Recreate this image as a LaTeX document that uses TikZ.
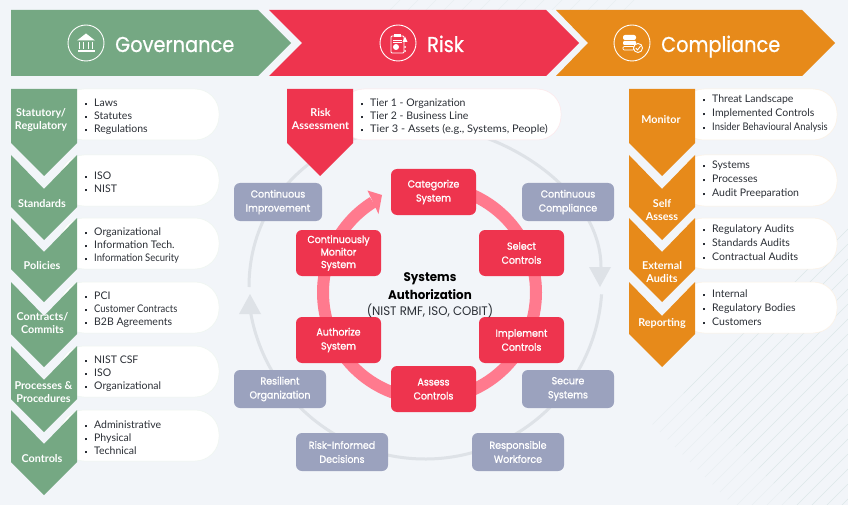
\documentclass[tikz,border=0pt]{standalone}
\usepackage{fontspec}
\setmainfont{Lato}
\newfontfamily\headfont[FakeStretch=0.9, FakeBold=0.7]{Poppins}
\newfontfamily\medfont[FakeStretch=0.93, FakeBold=1.2]{Poppins}
\newfontfamily\framefont[FakeStretch=0.95]{Poppins}
\newfontfamily\tightfont[FakeStretch=0.9]{Lato}
\newfontfamily\widefont[FakeStretch=1.05]{Lato}
\definecolor{pagebg}{HTML}{F2F5F9}
\definecolor{govgreen}{HTML}{75A883}
\definecolor{riskred}{HTML}{EE344E}
\definecolor{compamber}{HTML}{E78A1A}
\definecolor{outcomeblue}{HTML}{9BA2BE}
\definecolor{ringpink}{HTML}{FF7A8E}
\definecolor{ringgray}{HTML}{DEE2E7}
\definecolor{inktext}{HTML}{2B2F36}
\definecolor{hatchline}{HTML}{DCE8E8}
\newcommand{\blt}{\rule[1.6pt]{2pt}{2pt}\hspace{7pt}}
\tikzset{
	headtext/.style = {text = white, font = \headfont\fontsize{21.5}{24}\selectfont, anchor = base west, inner sep = 0pt},
	chevtext/.style = {text = white, font = \fontsize{10.8}{13}\selectfont\bfseries, align = center, inner sep = 0pt},
	listtext/.style = {text = inktext, font = \fontsize{10.5}{13}\selectfont, align = left, anchor = west, inner sep = 0pt},
	listwide/.style = {listtext, font = \fontsize{10.5}{14}\selectfont},
	pill/.style = {fill = white, draw = #1!12, line width = 0.5pt, rounded corners = 24},
	stepnode/.style = {fill = riskred, rounded corners = 6, text = white, align = center,
		minimum width = 85, minimum height = 46, inner sep = 0pt,
		font = \medfont\fontsize{10.2}{14}\selectfont},
	outcomenode/.style = {fill = outcomeblue, rounded corners = 6, text = white, align = center,
		minimum width = 92, minimum height = 38, inner sep = 0pt,
		font = \medfont\fontsize{10.2}{14}\selectfont},
	iconline/.style = {draw = white, line width = 0.9pt},
	cycleline/.style = {ringgray, line width = 3pt}
}
\begin{document}
\begin{tikzpicture}[x = 1pt, y = 1pt, yscale = -1]
	\useasboundingbox (0, 0) rectangle (848, 505);
	\fill[pagebg] (0, 0) rectangle (848, 505);
	% hatching behind everything
	\begin{scope}
		\clip (0, 0) rectangle (848, 505);
		\foreach \c in {400, 418, ..., 640}
			\draw[hatchline, line width = 0.5pt, opacity = 0.4] (\c, 0) -- (\c - 10, 10);
		\foreach \c in {1077, 1092, ..., 1362} {
			\draw[hatchline, line width = 0.5pt, opacity = 0.4] ({(\c + 228) / 2}, {(\c - 228) / 2}) -- ({(\c + 290) / 2}, {(\c - 290) / 2});
			\draw[hatchline, line width = 0.5pt] ({(\c + 290) / 2}, {(\c - 290) / 2}) -- (848, \c - 848);
		}
	\end{scope}
	% the header arrows
	\fill[govgreen] (11, 10) -- (258, 10) -- (291, 43) -- (258, 76) -- (11, 76) -- cycle;
	\fill[riskred] (269, 10) -- (546, 10) -- (579, 43) -- (546, 76) -- (269, 76) -- (302, 43) -- cycle;
	\fill[compamber] (556, 10) -- (802, 10) -- (835, 43) -- (802, 76) -- (556, 76) -- (588, 43) -- cycle;
	\node[headtext] (govhead) at (115, 52) {Governance};
	\node[headtext] (riskhead) at (427, 52) {Risk};
	\node[headtext] (comphead) at (661, 52) {Compliance};
	% bank icon
	\draw[iconline] (86, 43) circle (18);
	\fill[white] (77, 40.5) -- (86, 33.5) -- (95, 40.5) -- cycle;
	\foreach \x in {79.5, 83.5, 88.5, 92.5}
		\fill[white] (\x - 0.8, 42) rectangle (\x + 0.8, 49);
	\fill[white] (77.5, 50) rectangle (94.5, 52);
	% clipboard icon
	\draw[iconline] (398, 43) circle (18);
	\draw[iconline, rounded corners = 1] (391, 36) rectangle (404, 53);
	\fill[white] (394, 34.5) rectangle (401, 37.5);
	\fill[white] (396, 47) circle (3);
	\foreach \y in {40, 42.5}
		\draw[white, line width = 0.7pt] (393, \y) -- (402, \y);
	\fill[white] (405, 36.5) -- (407.5, 42) -- (402.5, 42) -- cycle;
	\fill[white] (405, 47) circle (1) (405, 51) circle (1);
	% database icon
	\draw[iconline] (632, 43) circle (18);
	\fill[white, rounded corners = 2] (623, 35) rectangle (636, 40);
	\fill[white, rounded corners = 1] (623, 41) rectangle (636, 45);
	\draw[white, line width = 0.7pt, rounded corners = 1] (623, 46.5) rectangle (634, 50);
	\draw[iconline, fill = compamber] (638, 48) circle (4.5);
	\draw[white, line width = 0.9pt] (635.8, 48) -- (637.5, 50) -- (640.5, 46);
	% the big gray cycle, flatter on top
	\draw[cycleline] (425, 282) ++(4:177) arc[start angle = 4, end angle = 170, radius = 177];
	\draw[cycleline] (249, 287) .. controls (249, 190) and (330, 126) .. (425, 126) .. controls (500, 126) and (601, 190) .. (601, 267);
	\fill[ringgray] (589, 267) -- (611, 267) -- (600, 287) -- cycle;
	\fill[ringgray] (239, 314) -- (261, 314) -- (250, 294) -- cycle;
	% the pink cycle
	\draw[ringpink, line width = 12pt] (429.5, 292.5) ++(270:106.5) arc[start angle = 270, end angle = 598, radius = 106.5];
	\fill[ringpink] (382, 195) -- (367.5, 190.5) -- (378.5, 214) -- cycle;
	% white lists, left
	\foreach \ytop in {89, 155, 218, 282, 346, 410}
		\draw[pill = govgreen] (60, \ytop) -- (219, \ytop) -- (219, \ytop + 51) -- (60, \ytop + 51) -- cycle;
	% white lists, middle and right
	\draw[pill = riskred] (340, 89) -- (561, 89) -- (561, 140) -- (340, 140) -- cycle;
	\foreach \ytop in {89, 155, 218, 282}
		\draw[pill = compamber] (680, \ytop) -- (837, \ytop) -- (837, \ytop + 51) -- (680, \ytop + 51) -- cycle;
	% green column
	\fill[govgreen] (11, 89) -- (77, 89) -- (77, 143) -- (44, 176) -- (11, 143) -- cycle;
	\foreach \ytop/\ytip in {155/240, 218/302, 282/367, 346/432, 410/495}
		\fill[govgreen] (11, \ytop) -- (44, \ytop + 34) -- (77, \ytop) -- (77, \ytip - 33) -- (44, \ytip) -- (11, \ytip - 33) -- cycle;
	% red column
	\fill[riskred] (287, 89) -- (353, 89) -- (353, 143) -- (320, 176) -- (287, 143) -- cycle;
	% amber column
	\fill[compamber] (629, 89) -- (695, 89) -- (695, 143) -- (662, 176) -- (629, 143) -- cycle;
	\foreach \ytop/\ytip in {155/240, 218/302, 282/367}
		\fill[compamber] (629, \ytop) -- (662, \ytop + 34) -- (695, \ytop) -- (695, \ytip - 33) -- (662, \ytip) -- (629, \ytip - 33) -- cycle;
	% labels on the columns
	\node[chevtext] (statlabel) at (41, 119.5) {Statutory/\\Regulatory};
	\node[chevtext] (stdlabel) at (42, 203.5) {Standards};
	\node[chevtext] (pollabel) at (42, 265.5) {Policies};
	\node[chevtext] (conlabel) at (42.5, 323.5) {Contracts/\\Commits};
	\node[chevtext] (proclabel) at (43.5, 392.5) {Processes \&\\Procedures};
	\node[chevtext] (ctrllabel) at (42, 458.5) {Controls};
	\node[chevtext] (risklabel) at (320.5, 119.5) {Risk\\Assessment};
	\node[chevtext] (monlabel) at (661, 119.5) {Monitor};
	\node[chevtext] (selflabel) at (662, 210) {Self\\Assess};
	\node[chevtext] (extlabel) at (662, 272) {External\\Audits};
	\node[chevtext] (replabel) at (662, 323.5) {Reporting};
	% the lists
	\node[listtext] (statlist) at (85, 117) {\blt Laws\\\blt Statutes\\\blt Regulations};
	\node[listtext] (stdlist) at (85, 182.5) {\blt ISO\\\blt NIST};
	\node[listtext] (pollist) at (85, 246) {\blt Organizational\\\blt Information Tech.\\\blt {\tightfont Information Security}};
	\node[listtext] (conlist) at (85, 310) {\blt PCI\\\blt {\tightfont Customer Contracts}\\\blt B2B Agreements};
	\node[listtext] (proclist) at (85, 374) {\blt NIST CSF\\\blt ISO\\\blt Organizational};
	\node[listtext] (ctrllist) at (85, 438) {\blt Administrative\\\blt Physical\\\blt Technical};
	\node[listtext] (risklist) at (361, 117) {\blt Tier 1 - Organization\\\blt Tier 2 - Business Line\\\blt {\widefont Tier 3 - Assets (e.g., Systems, People)}};
	\node[listwide] (monlist) at (703, 114) {\blt Threat Landscape\\\blt Implemented Controls\\\blt {\tightfont Insider Behavioural Analysis}};
	\node[listwide] (selflist) at (703, 180) {\blt Systems\\\blt Processes\\\blt Audit Preeparation};
	\node[listwide] (extlist) at (703, 243) {\blt Regulatory Audits\\\blt Standards Audits\\\blt Contractual Audits};
	\node[listwide] (replist) at (703, 308) {\blt Internal\\\blt Regulatory Bodies\\\blt Customers};
	% steps on the pink cycle
	\node[stepnode] (categorize) at (433.5, 192) {Categorize\\System};
	\node[stepnode] (select) at (521.5, 253) {Select\\Controls};
	\node[stepnode] (implement) at (521.5, 340) {Implement\\Controls};
	\node[stepnode] (assess) at (433.5, 389) {Assess\\Controls};
	\node[stepnode] (authorize) at (338.5, 340) {Authorize\\System};
	\node[stepnode] (monitor) at (338.5, 253) {Continuously\\[-1.5pt]Monitor\\[-1.5pt]System};
	% outcomes on the gray cycle
	\node[outcomenode, minimum width = 88] (improve) at (278, 202) {Continuous\\Improvement};
	\node[outcomenode] (compliance) at (568, 202) {Continuous\\Compliance};
	\node[outcomenode] (secure) at (568, 389) {Secure\\Systems};
	\node[outcomenode] (resilient) at (280, 389) {Resilient\\Organization};
	\node[outcomenode] (riskinformed) at (342, 452) {Risk-Informed\\Decisions};
	\node[outcomenode] (responsible) at (518, 452) {Responsible\\Workforce};
	% centre
	\node[text = black, font = \framefont\fontsize{12.5}{18}\selectfont\bfseries, align = center, inner sep = 0pt] (sysauth) at (430, 286) {Systems\\Authorization};
	\node[text = inktext, font = \framefont\fontsize{12.4}{14}\selectfont, inner sep = 0pt] (sysframe) at (430, 310.5) {(NIST RMF, ISO, COBIT)};
\end{tikzpicture}
\end{document}
